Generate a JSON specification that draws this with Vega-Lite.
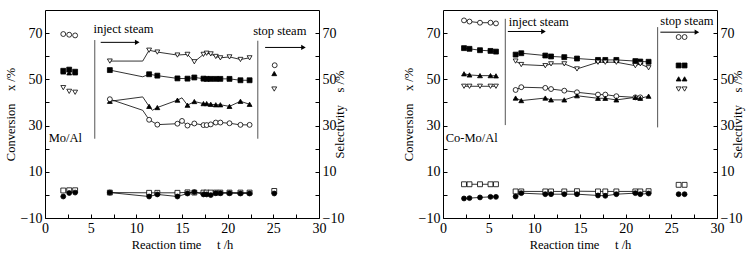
{
  "$schema": "https://vega.github.io/schema/vega-lite/v6.json",
  "background": "white",
  "padding": {"left": 3, "top": 9, "right": 2, "bottom": 2},
  "spacing": 54,
  "config": {
    "font": "Liberation Serif",
    "view": {"stroke": "black", "strokeWidth": 1},
    "axis": {"grid": false, "domain": false, "ticks": true, "tickColor": "black", "tickSize": 4, "tickWidth": 1, "offset": -4, "zindex": 1, "labelColor": "black", "titleColor": "black", "labelFont": "Liberation Serif", "titleFont": "Liberation Serif", "labelFontSize": 14, "titleFontSize": 12.5, "titleFontWeight": "normal", "labelPadding": 3, "titlePadding": 3, "labelFlush": false, "labelOverlap": false}
  },
  "datasets": {
    "mo": [
      {"t":2.0,"v":69.6,"s":"oc","seg":"pre","m":1},{"t":2.65,"v":69.3,"s":"oc","seg":"pre","m":1},{"t":3.3,"v":69.0,"s":"oc","seg":"pre","m":1},
      {"t":2.0,"v":53.7,"s":"fs","seg":"pre","m":1},{"t":2.65,"v":54.2,"s":"fs","seg":"pre","m":1},{"t":3.3,"v":53.3,"s":"fs","seg":"pre","m":1},
      {"t":2.0,"v":53.2,"s":"ut","seg":"pre","m":1},{"t":2.65,"v":52.8,"s":"ut","seg":"pre","m":1},{"t":3.3,"v":52.8,"s":"ut","seg":"pre","m":1},
      {"t":2.0,"v":46.4,"s":"dt","seg":"pre","m":1},{"t":2.65,"v":44.8,"s":"dt","seg":"pre","m":1},{"t":3.3,"v":44.4,"s":"dt","seg":"pre","m":1},
      {"t":2.0,"v":1.9,"s":"os","seg":"pre","m":1},{"t":2.65,"v":2.0,"s":"os","seg":"pre","m":1},{"t":3.3,"v":2.0,"s":"os","seg":"pre","m":1},
      {"t":2.0,"v":-0.7,"s":"fc","seg":"pre","m":1},{"t":2.65,"v":0.8,"s":"fc","seg":"pre","m":1},{"t":3.3,"v":1.0,"s":"fc","seg":"pre","m":1},

      {"t":7.1,"v":57.9,"s":"dt","seg":"inj","m":1},{"t":10.7,"v":57.9,"s":"dt","seg":"inj","m":0},{"t":11.4,"v":62.6,"s":"dt","seg":"inj","m":1},{"t":12.3,"v":61.8,"s":"dt","seg":"inj","m":1},{"t":14.5,"v":60.5,"s":"dt","seg":"inj","m":1},{"t":15.6,"v":60.8,"s":"dt","seg":"inj","m":1},{"t":16.35,"v":57.6,"s":"dt","seg":"inj","m":1},{"t":17.35,"v":60.8,"s":"dt","seg":"inj","m":1},{"t":17.7,"v":61.3,"s":"dt","seg":"inj","m":1},{"t":18.15,"v":61.0,"s":"dt","seg":"inj","m":1},{"t":18.7,"v":59.9,"s":"dt","seg":"inj","m":1},{"t":19.2,"v":59.3,"s":"dt","seg":"inj","m":1},{"t":20.2,"v":59.7,"s":"dt","seg":"inj","m":1},{"t":21.4,"v":58.6,"s":"dt","seg":"inj","m":1},{"t":22.4,"v":59.3,"s":"dt","seg":"inj","m":1},

      {"t":7.1,"v":54.0,"s":"fs","seg":"inj","m":1},{"t":10.7,"v":51.1,"s":"fs","seg":"inj","m":0},{"t":11.4,"v":52.2,"s":"fs","seg":"inj","m":1},{"t":12.3,"v":51.6,"s":"fs","seg":"inj","m":1},{"t":14.5,"v":50.4,"s":"fs","seg":"inj","m":1},{"t":15.6,"v":50.3,"s":"fs","seg":"inj","m":1},{"t":16.35,"v":50.8,"s":"fs","seg":"inj","m":1},{"t":17.35,"v":50.3,"s":"fs","seg":"inj","m":1},{"t":17.7,"v":50.2,"s":"fs","seg":"inj","m":1},{"t":18.15,"v":50.2,"s":"fs","seg":"inj","m":1},{"t":18.7,"v":50.2,"s":"fs","seg":"inj","m":1},{"t":19.2,"v":50.2,"s":"fs","seg":"inj","m":1},{"t":20.2,"v":50.2,"s":"fs","seg":"inj","m":1},{"t":21.4,"v":49.6,"s":"fs","seg":"inj","m":1},{"t":22.4,"v":49.6,"s":"fs","seg":"inj","m":1},

      {"t":7.1,"v":40.5,"s":"ut","seg":"inj","m":1},{"t":10.7,"v":42.4,"s":"ut","seg":"inj","m":0},{"t":11.4,"v":38.3,"s":"ut","seg":"inj","m":1},{"t":11.75,"v":36.6,"s":"ut","seg":"inj","m":0},{"t":12.3,"v":37.8,"s":"ut","seg":"inj","m":1},{"t":14.5,"v":41.0,"s":"ut","seg":"inj","m":1},{"t":15.0,"v":42.0,"s":"ut","seg":"inj","m":0},{"t":15.6,"v":38.8,"s":"ut","seg":"inj","m":1},{"t":16.35,"v":40.4,"s":"ut","seg":"inj","m":1},{"t":17.35,"v":39.5,"s":"ut","seg":"inj","m":1},{"t":17.7,"v":39.5,"s":"ut","seg":"inj","m":1},{"t":18.15,"v":39.2,"s":"ut","seg":"inj","m":1},{"t":18.7,"v":39.0,"s":"ut","seg":"inj","m":1},{"t":19.2,"v":39.0,"s":"ut","seg":"inj","m":1},{"t":20.2,"v":38.3,"s":"ut","seg":"inj","m":1},{"t":21.4,"v":40.5,"s":"ut","seg":"inj","m":1},{"t":22.4,"v":39.2,"s":"ut","seg":"inj","m":1},

      {"t":7.1,"v":41.4,"s":"oc","seg":"inj","m":1},{"t":10.7,"v":36.6,"s":"oc","seg":"inj","m":0},{"t":11.4,"v":32.5,"s":"oc","seg":"inj","m":1},{"t":12.3,"v":30.4,"s":"oc","seg":"inj","m":1},{"t":14.5,"v":30.8,"s":"oc","seg":"inj","m":1},{"t":15.0,"v":32.0,"s":"oc","seg":"inj","m":1},{"t":15.6,"v":30.0,"s":"oc","seg":"inj","m":1},{"t":16.35,"v":30.9,"s":"oc","seg":"inj","m":1},{"t":17.35,"v":30.2,"s":"oc","seg":"inj","m":1},{"t":17.7,"v":30.2,"s":"oc","seg":"inj","m":1},{"t":18.15,"v":30.5,"s":"oc","seg":"inj","m":1},{"t":18.7,"v":31.3,"s":"oc","seg":"inj","m":1},{"t":19.2,"v":31.3,"s":"oc","seg":"inj","m":1},{"t":20.2,"v":31.0,"s":"oc","seg":"inj","m":1},{"t":21.4,"v":30.3,"s":"oc","seg":"inj","m":1},{"t":22.4,"v":30.3,"s":"oc","seg":"inj","m":1},

      {"t":7.1,"v":1.0,"s":"os","seg":"inj","m":1},{"t":11.4,"v":0.9,"s":"os","seg":"inj","m":1},{"t":12.3,"v":0.9,"s":"os","seg":"inj","m":1},{"t":14.5,"v":0.9,"s":"os","seg":"inj","m":1},{"t":15.6,"v":1.1,"s":"os","seg":"inj","m":1},{"t":16.35,"v":1.0,"s":"os","seg":"inj","m":1},{"t":17.35,"v":1.0,"s":"os","seg":"inj","m":1},{"t":17.7,"v":1.0,"s":"os","seg":"inj","m":1},{"t":18.15,"v":1.0,"s":"os","seg":"inj","m":1},{"t":18.7,"v":1.0,"s":"os","seg":"inj","m":1},{"t":19.2,"v":1.0,"s":"os","seg":"inj","m":1},{"t":20.2,"v":1.0,"s":"os","seg":"inj","m":1},{"t":21.4,"v":1.0,"s":"os","seg":"inj","m":1},{"t":22.4,"v":1.0,"s":"os","seg":"inj","m":1},

      {"t":7.1,"v":1.0,"s":"fc","seg":"inj","m":1},{"t":11.4,"v":-0.7,"s":"fc","seg":"inj","m":1},{"t":12.3,"v":0.2,"s":"fc","seg":"inj","m":1},{"t":14.5,"v":-0.7,"s":"fc","seg":"inj","m":1},{"t":15.6,"v":0.6,"s":"fc","seg":"inj","m":1},{"t":16.35,"v":1.2,"s":"fc","seg":"inj","m":1},{"t":17.35,"v":0.2,"s":"fc","seg":"inj","m":1},{"t":17.7,"v":0.2,"s":"fc","seg":"inj","m":1},{"t":18.15,"v":-0.1,"s":"fc","seg":"inj","m":1},{"t":18.7,"v":0.7,"s":"fc","seg":"inj","m":1},{"t":19.2,"v":0.7,"s":"fc","seg":"inj","m":1},{"t":20.2,"v":0.7,"s":"fc","seg":"inj","m":1},{"t":21.4,"v":0.6,"s":"fc","seg":"inj","m":1},{"t":22.4,"v":0.6,"s":"fc","seg":"inj","m":1},

      {"t":25.15,"v":56.1,"s":"oc","seg":"stop","m":1},{"t":25.1,"v":52.5,"s":"ut","seg":"stop","m":1},{"t":25.1,"v":45.8,"s":"dt","seg":"stop","m":1},{"t":25.1,"v":1.7,"s":"os","seg":"stop","m":1},{"t":25.1,"v":0.6,"s":"fc","seg":"stop","m":1}
    ],
    "co": [
      {"t":2.3,"v":75.5,"s":"oc","seg":"pre","m":1},{"t":2.9,"v":75.0,"s":"oc","seg":"pre","m":1},{"t":4.05,"v":74.5,"s":"oc","seg":"pre","m":1},{"t":5.2,"v":74.5,"s":"oc","seg":"pre","m":1},{"t":5.8,"v":74.2,"s":"oc","seg":"pre","m":1},
      {"t":2.3,"v":63.5,"s":"fs","seg":"pre","m":1},{"t":2.9,"v":63.2,"s":"fs","seg":"pre","m":1},{"t":4.05,"v":62.6,"s":"fs","seg":"pre","m":1},{"t":5.2,"v":62.3,"s":"fs","seg":"pre","m":1},{"t":5.8,"v":62.0,"s":"fs","seg":"pre","m":1},
      {"t":2.3,"v":52.4,"s":"ut","seg":"pre","m":1},{"t":2.9,"v":51.9,"s":"ut","seg":"pre","m":1},{"t":4.05,"v":51.6,"s":"ut","seg":"pre","m":1},{"t":5.2,"v":51.6,"s":"ut","seg":"pre","m":1},{"t":5.8,"v":51.5,"s":"ut","seg":"pre","m":1},
      {"t":2.3,"v":47.0,"s":"dt","seg":"pre","m":1},{"t":2.9,"v":47.0,"s":"dt","seg":"pre","m":1},{"t":4.05,"v":47.0,"s":"dt","seg":"pre","m":1},{"t":5.2,"v":47.0,"s":"dt","seg":"pre","m":1},{"t":5.8,"v":47.0,"s":"dt","seg":"pre","m":1},
      {"t":2.3,"v":4.6,"s":"os","seg":"pre","m":1},{"t":2.9,"v":4.6,"s":"os","seg":"pre","m":1},{"t":4.05,"v":4.6,"s":"os","seg":"pre","m":1},{"t":5.2,"v":4.6,"s":"os","seg":"pre","m":1},{"t":5.8,"v":4.6,"s":"os","seg":"pre","m":1},
      {"t":2.3,"v":-1.55,"s":"fc","seg":"pre","m":1},{"t":2.9,"v":-1.4,"s":"fc","seg":"pre","m":1},{"t":4.05,"v":-1.1,"s":"fc","seg":"pre","m":1},{"t":5.2,"v":-0.85,"s":"fc","seg":"pre","m":1},{"t":5.8,"v":-0.85,"s":"fc","seg":"pre","m":1},

      {"t":7.95,"v":60.7,"s":"fs","seg":"inj","m":1},{"t":8.57,"v":61.3,"s":"fs","seg":"inj","m":1},{"t":11.2,"v":60.3,"s":"fs","seg":"inj","m":1},{"t":11.83,"v":59.9,"s":"fs","seg":"inj","m":1},{"t":13.28,"v":59.6,"s":"fs","seg":"inj","m":1},{"t":14.67,"v":59.0,"s":"fs","seg":"inj","m":1},{"t":16.97,"v":58.4,"s":"fs","seg":"inj","m":1},{"t":17.77,"v":58.4,"s":"fs","seg":"inj","m":1},{"t":18.98,"v":58.4,"s":"fs","seg":"inj","m":1},{"t":21.06,"v":57.9,"s":"fs","seg":"inj","m":1},{"t":21.6,"v":57.7,"s":"fs","seg":"inj","m":1},{"t":22.51,"v":57.6,"s":"fs","seg":"inj","m":1},

      {"t":7.95,"v":57.9,"s":"dt","seg":"inj","m":1},{"t":8.57,"v":56.4,"s":"dt","seg":"inj","m":1},{"t":11.2,"v":55.9,"s":"dt","seg":"inj","m":1},{"t":11.83,"v":56.7,"s":"dt","seg":"inj","m":1},{"t":13.28,"v":56.7,"s":"dt","seg":"inj","m":1},{"t":14.67,"v":54.5,"s":"dt","seg":"inj","m":1},{"t":16.97,"v":57.4,"s":"dt","seg":"inj","m":1},{"t":17.77,"v":57.4,"s":"dt","seg":"inj","m":1},{"t":18.98,"v":57.4,"s":"dt","seg":"inj","m":1},{"t":21.06,"v":55.9,"s":"dt","seg":"inj","m":1},{"t":21.6,"v":56.7,"s":"dt","seg":"inj","m":1},{"t":22.51,"v":55.0,"s":"dt","seg":"inj","m":1},

      {"t":7.95,"v":45.4,"s":"oc","seg":"inj","m":1},{"t":8.57,"v":46.6,"s":"oc","seg":"inj","m":1},{"t":11.2,"v":46.3,"s":"oc","seg":"inj","m":1},{"t":11.83,"v":45.8,"s":"oc","seg":"inj","m":1},{"t":13.28,"v":45.1,"s":"oc","seg":"inj","m":1},{"t":14.67,"v":44.4,"s":"oc","seg":"inj","m":1},{"t":16.97,"v":43.4,"s":"oc","seg":"inj","m":1},{"t":17.77,"v":43.4,"s":"oc","seg":"inj","m":1},{"t":18.98,"v":42.7,"s":"oc","seg":"inj","m":1},{"t":21.06,"v":42.2,"s":"oc","seg":"inj","m":1},{"t":21.6,"v":42.2,"s":"oc","seg":"inj","m":1},

      {"t":7.95,"v":41.9,"s":"ut","seg":"inj","m":1},{"t":8.57,"v":40.8,"s":"ut","seg":"inj","m":1},{"t":11.2,"v":41.9,"s":"ut","seg":"inj","m":1},{"t":11.83,"v":41.1,"s":"ut","seg":"inj","m":1},{"t":13.28,"v":41.1,"s":"ut","seg":"inj","m":1},{"t":14.67,"v":42.9,"s":"ut","seg":"inj","m":1},{"t":16.97,"v":41.8,"s":"ut","seg":"inj","m":1},{"t":17.77,"v":41.8,"s":"ut","seg":"inj","m":1},{"t":18.98,"v":41.1,"s":"ut","seg":"inj","m":1},{"t":21.06,"v":42.2,"s":"ut","seg":"inj","m":1},{"t":21.6,"v":41.8,"s":"ut","seg":"inj","m":1},{"t":22.51,"v":42.7,"s":"ut","seg":"inj","m":1},

      {"t":7.95,"v":1.5,"s":"os","seg":"inj","m":1},{"t":8.57,"v":1.5,"s":"os","seg":"inj","m":1},{"t":11.2,"v":1.5,"s":"os","seg":"inj","m":1},{"t":11.83,"v":1.5,"s":"os","seg":"inj","m":1},{"t":13.28,"v":1.5,"s":"os","seg":"inj","m":1},{"t":14.67,"v":1.6,"s":"os","seg":"inj","m":1},{"t":16.97,"v":1.5,"s":"os","seg":"inj","m":1},{"t":17.77,"v":1.5,"s":"os","seg":"inj","m":1},{"t":18.98,"v":1.5,"s":"os","seg":"inj","m":1},{"t":21.06,"v":1.5,"s":"os","seg":"inj","m":1},{"t":21.6,"v":1.5,"s":"os","seg":"inj","m":1},{"t":22.51,"v":1.6,"s":"os","seg":"inj","m":1},

      {"t":7.95,"v":-0.7,"s":"fc","seg":"inj","m":1},{"t":8.57,"v":0.75,"s":"fc","seg":"inj","m":1},{"t":11.2,"v":0.3,"s":"fc","seg":"inj","m":1},{"t":11.83,"v":0.3,"s":"fc","seg":"inj","m":1},{"t":13.28,"v":0.3,"s":"fc","seg":"inj","m":1},{"t":14.67,"v":0.3,"s":"fc","seg":"inj","m":1},{"t":16.97,"v":-0.25,"s":"fc","seg":"inj","m":1},{"t":17.77,"v":-0.4,"s":"fc","seg":"inj","m":1},{"t":18.98,"v":0.3,"s":"fc","seg":"inj","m":1},{"t":21.06,"v":0.75,"s":"fc","seg":"inj","m":1},{"t":21.6,"v":0.3,"s":"fc","seg":"inj","m":1},{"t":22.51,"v":0.6,"s":"fc","seg":"inj","m":1},

      {"t":25.8,"v":68.3,"s":"oc","seg":"stop","m":1},{"t":26.45,"v":68.3,"s":"oc","seg":"stop","m":1},
      {"t":25.8,"v":56.0,"s":"fs","seg":"stop","m":1},{"t":26.45,"v":56.0,"s":"fs","seg":"stop","m":1},
      {"t":25.8,"v":50.2,"s":"ut","seg":"stop","m":1},{"t":26.45,"v":50.2,"s":"ut","seg":"stop","m":1},
      {"t":25.8,"v":45.8,"s":"dt","seg":"stop","m":1},{"t":26.45,"v":45.8,"s":"dt","seg":"stop","m":1},
      {"t":25.8,"v":4.35,"s":"os","seg":"stop","m":1},{"t":26.45,"v":4.35,"s":"os","seg":"stop","m":1},
      {"t":25.8,"v":0.3,"s":"fc","seg":"stop","m":1},{"t":26.45,"v":0.3,"s":"fc","seg":"stop","m":1}
    ],
    "moNotes": [
      {"kind":"vline","t":5.45,"v":67.0,"v2":24.3},
      {"kind":"vline","t":23.3,"v":66.7,"v2":24.3},
      {"kind":"arrow","t":6.1,"t2":10.1,"v":66.0},
      {"kind":"arrow","t":24.1,"t2":28.3,"v":63.8},
      {"kind":"head","t":10.1,"v":66.0},
      {"kind":"head","t":28.3,"v":63.8},
      {"kind":"label","t":5.3,"v":70.0,"text":"inject steam"},
      {"kind":"label","t":22.8,"v":69.3,"text":"stop steam"},
      {"kind":"label","t":0.4,"v":22.9,"text":"Mo/Al"}
    ],
    "coNotes": [
      {"kind":"vline","t":6.82,"v":76.2,"v2":30.2},
      {"kind":"vline","t":23.5,"v":72.6,"v2":29.2},
      {"kind":"arrow","t":7.1,"t2":11.0,"v":70.7},
      {"kind":"arrow","t":23.8,"t2":27.8,"v":70.4},
      {"kind":"head","t":11.0,"v":70.7},
      {"kind":"head","t":27.8,"v":70.4},
      {"kind":"label","t":7.2,"v":73.0,"text":"inject steam"},
      {"kind":"label","t":23.8,"v":73.3,"text":"stop steam"},
      {"kind":"label","t":0.3,"v":22.7,"text":"Co-Mo/Al"}
    ]
  },
  "hconcat": [
    {
      "width": 274, "height": 208,
      "data": {"name": "mo"},
      "encoding": {
        "x": {"field": "t", "type": "quantitative", "scale": {"domain": [0, 30], "nice": false},
              "axis": {"values": [0,2.5,5,7.5,10,12.5,15,17.5,20,22.5,25,27.5,30], "format": ".1f", "labelExpr": "datum.value % 5 == 0 ? format(datum.value, 'd') : ''", "title": "Reaction time\u00a0\u00a0\u00a0\u00a0\u00a0t /h", "titleFont": "Liberation Serif", "titleFontSize": 12.5, "titleFontWeight": "normal", "titleColor": "black"}},
        "y": {"field": "v", "type": "quantitative", "scale": {"domain": [-10, 80], "nice": false},
              "axis": {"orient": "left", "values": [-10,0,10,20,30,40,50,60,70], "format": "d", "labelExpr": "datum.value % 20 != 0 ? datum.label : ''", "title": "Conversion\u00a0\u00a0\u00a0\u00a0x /%"}}
      },
      "layer": [
        {"transform": [{"filter": "datum.seg == 'inj'"}],
         "mark": {"type": "line", "color": "black", "strokeWidth": 0.8},
         "encoding": {"detail": [{"field": "s"}, {"field": "seg"}]}},
        {"transform": [{"filter": "datum.m == 1"}],
         "mark": {"type": "point", "filled": true, "stroke": "black", "strokeWidth": 0.8, "opacity": 1, "size": 24},
         "encoding": {
           "y": {"field": "v", "type": "quantitative", "axis": {"orient": "right", "values": [-10,0,10,20,30,40,50,60,70], "format": "d", "labelExpr": "datum.value % 20 != 0 ? datum.label : ''", "title": "Selectivity\u00a0\u00a0\u00a0\u00a0s /%", "titleAngle": 270}},
           "shape": {"field": "s", "type": "nominal", "scale": {"domain": ["oc","fs","dt","ut","os","fc"], "range": ["circle","square","triangle-down","triangle-up","square","circle"]}, "legend": null},
           "fill": {"field": "s", "type": "nominal", "scale": {"domain": ["oc","fs","dt","ut","os","fc"], "range": ["white","black","white","black","white","black"]}, "legend": null}
         }},
        {"data": {"name": "moNotes"}, "transform": [{"filter": "datum.kind == 'vline'"}],
         "mark": {"type": "rule", "color": "#555555", "strokeWidth": 1},
         "encoding": {"y": {"field": "v", "type": "quantitative", "axis": null}, "y2": {"field": "v2"}}},
        {"data": {"name": "moNotes"}, "transform": [{"filter": "datum.kind == 'arrow'"}],
         "mark": {"type": "rule", "color": "black", "strokeWidth": 1},
         "encoding": {"x2": {"field": "t2"}, "y": {"field": "v", "type": "quantitative", "axis": null}}},
        {"data": {"name": "moNotes"}, "transform": [{"filter": "datum.kind == 'head'"}],
         "mark": {"type": "point", "shape": "triangle-right", "filled": true, "color": "black", "size": 28, "opacity": 1},
         "encoding": {"y": {"field": "v", "type": "quantitative", "axis": null}}},
        {"data": {"name": "moNotes"}, "transform": [{"filter": "datum.kind == 'label'"}],
         "mark": {"type": "text", "align": "left", "baseline": "alphabetic", "font": "Liberation Serif", "fontSize": 12.5, "color": "black"},
         "encoding": {"y": {"field": "v", "type": "quantitative", "axis": null}, "text": {"field": "text"}}}
      ],
      "resolve": {"axis": {"y": "independent"}}
    },
    {
      "width": 274, "height": 208,
      "data": {"name": "co"},
      "encoding": {
        "x": {"field": "t", "type": "quantitative", "scale": {"domain": [0, 30], "nice": false},
              "axis": {"values": [0,2.5,5,7.5,10,12.5,15,17.5,20,22.5,25,27.5,30], "format": ".1f", "labelExpr": "datum.value % 5 == 0 ? format(datum.value, 'd') : ''", "title": "Reaction time\u00a0\u00a0\u00a0\u00a0\u00a0t /h", "titleFont": "Liberation Serif", "titleFontSize": 12.5, "titleFontWeight": "normal", "titleColor": "black"}},
        "y": {"field": "v", "type": "quantitative", "scale": {"domain": [-10, 80], "nice": false},
              "axis": {"orient": "left", "values": [-10,0,10,20,30,40,50,60,70], "format": "d", "labelExpr": "datum.value % 20 != 0 ? datum.label : ''", "title": "Conversion\u00a0\u00a0\u00a0\u00a0x /%"}}
      },
      "layer": [
        {"transform": [{"filter": "datum.seg != 'stop'"}],
         "mark": {"type": "line", "color": "black", "strokeWidth": 0.8},
         "encoding": {"detail": [{"field": "s"}, {"field": "seg"}]}},
        {"transform": [{"filter": "datum.m == 1"}],
         "mark": {"type": "point", "filled": true, "stroke": "black", "strokeWidth": 0.8, "opacity": 1, "size": 24},
         "encoding": {
           "y": {"field": "v", "type": "quantitative", "axis": {"orient": "right", "values": [-10,0,10,20,30,40,50,60,70], "format": "d", "labelExpr": "datum.value % 20 != 0 ? datum.label : ''", "title": "Selectivity\u00a0\u00a0\u00a0\u00a0s /%", "titleAngle": 270}},
           "shape": {"field": "s", "type": "nominal", "scale": {"domain": ["oc","fs","dt","ut","os","fc"], "range": ["circle","square","triangle-down","triangle-up","square","circle"]}, "legend": null},
           "fill": {"field": "s", "type": "nominal", "scale": {"domain": ["oc","fs","dt","ut","os","fc"], "range": ["white","black","white","black","white","black"]}, "legend": null}
         }},
        {"data": {"name": "coNotes"}, "transform": [{"filter": "datum.kind == 'vline'"}],
         "mark": {"type": "rule", "color": "#555555", "strokeWidth": 1},
         "encoding": {"y": {"field": "v", "type": "quantitative", "axis": null}, "y2": {"field": "v2"}}},
        {"data": {"name": "coNotes"}, "transform": [{"filter": "datum.kind == 'arrow'"}],
         "mark": {"type": "rule", "color": "black", "strokeWidth": 1},
         "encoding": {"x2": {"field": "t2"}, "y": {"field": "v", "type": "quantitative", "axis": null}}},
        {"data": {"name": "coNotes"}, "transform": [{"filter": "datum.kind == 'head'"}],
         "mark": {"type": "point", "shape": "triangle-right", "filled": true, "color": "black", "size": 28, "opacity": 1},
         "encoding": {"y": {"field": "v", "type": "quantitative", "axis": null}}},
        {"data": {"name": "coNotes"}, "transform": [{"filter": "datum.kind == 'label'"}],
         "mark": {"type": "text", "align": "left", "baseline": "alphabetic", "font": "Liberation Serif", "fontSize": 12.5, "color": "black"},
         "encoding": {"y": {"field": "v", "type": "quantitative", "axis": null}, "text": {"field": "text"}}}
      ],
      "resolve": {"axis": {"y": "independent"}}
    }
  ]
}
